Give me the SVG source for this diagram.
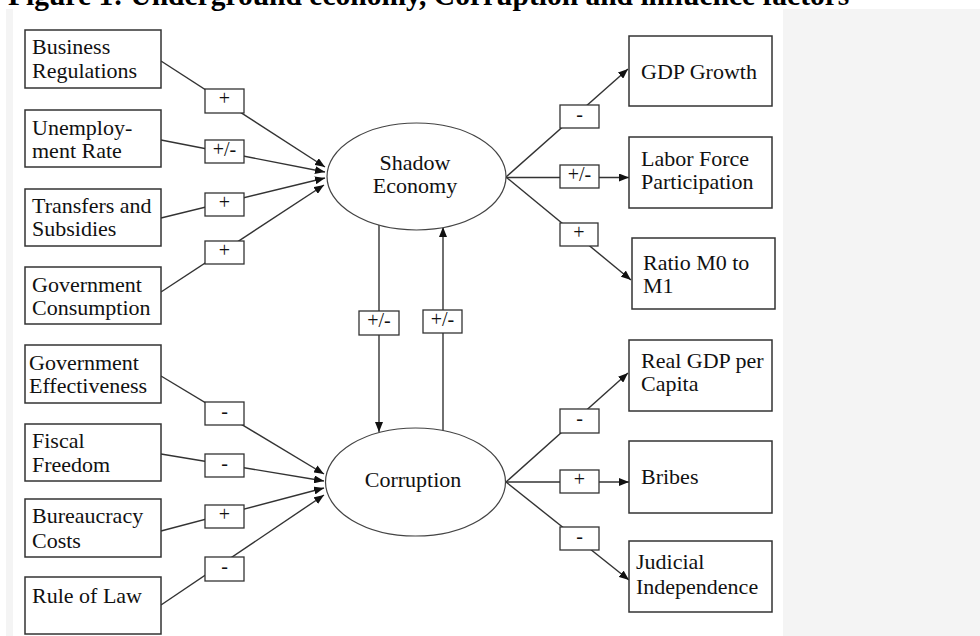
<svg xmlns="http://www.w3.org/2000/svg" width="980" height="636" viewBox="0 0 980 636">
<defs>
<marker id="ah" viewBox="0 0 10 8" refX="10" refY="4" markerWidth="10" markerHeight="8" markerUnits="userSpaceOnUse" orient="auto">
<path d="M0,0 L10,4 L0,8 z" fill="#111"/>
</marker>
<style>
.box{fill:#fff;stroke:#333;stroke-width:1.5}
.lbl{fill:#fff;stroke:#333;stroke-width:1.3}
.ell{fill:#fff;stroke:#444;stroke-width:1.2}
.t{font-family:"Liberation Serif","Times New Roman",serif;font-size:22px;fill:#111}
.lt{font-family:"Liberation Serif","Times New Roman",serif;font-size:20px;fill:#111;text-anchor:middle}
.c{stroke:#333;stroke-width:1.4;fill:none}
.a{marker-end:url(#ah)}
</style>
</defs>
<rect x="0" y="0" width="980" height="636" fill="#fff"/>
<rect x="6" y="9" width="7" height="627" fill="#f4f4f4"/>
<rect x="783" y="9" width="197" height="627" fill="#f4f4f4"/>
<text x="8" y="5" font-family="Liberation Serif,'Times New Roman',serif" font-size="29.5" font-weight="bold" fill="#000">Figure 1: Underground economy, Corruption and influence factors</text>

<g id="connectors">
<line class="c a" x1="161" y1="61" x2="325" y2="167"/>
<line class="c a" x1="161" y1="140" x2="325" y2="172"/>
<line class="c a" x1="161" y1="218" x2="325" y2="178"/>
<line class="c a" x1="161" y1="292" x2="324" y2="185"/>
<line class="c a" x1="161" y1="376" x2="324" y2="474"/>
<line class="c a" x1="161" y1="454" x2="324" y2="481"/>
<line class="c a" x1="161" y1="531" x2="324" y2="488"/>
<line class="c a" x1="161" y1="605" x2="324" y2="495"/>
<line class="c a" x1="506" y1="177" x2="628" y2="69"/>
<line class="c a" x1="506" y1="177.5" x2="629" y2="177.5"/>
<line class="c a" x1="506" y1="177" x2="631" y2="280"/>
<line class="c a" x1="506" y1="482" x2="628" y2="373"/>
<line class="c a" x1="506" y1="482" x2="629" y2="482"/>
<line class="c a" x1="506" y1="482" x2="629" y2="580"/>
<line class="c a" x1="379" y1="225" x2="379" y2="432"/>
<line class="c a" x1="443" y1="431" x2="443" y2="227"/>
<g id="labels">
<rect class="lbl" x="205" y="89" width="39" height="24"/><text class="lt" x="224.5" y="105">+</text>
<rect class="lbl" x="205" y="140" width="39" height="23"/><text class="lt" x="224.5" y="156">+/-</text>
<rect class="lbl" x="205" y="193" width="39" height="23"/><text class="lt" x="224.5" y="209">+</text>
<rect class="lbl" x="205" y="241" width="39" height="23"/><text class="lt" x="224.5" y="257">+</text>
<rect class="lbl" x="205" y="402" width="39" height="23"/><text class="lt" x="224.5" y="418">-</text>
<rect class="lbl" x="205" y="454" width="39" height="23"/><text class="lt" x="224.5" y="470">-</text>
<rect class="lbl" x="205" y="505" width="39" height="23"/><text class="lt" x="224.5" y="521">+</text>
<rect class="lbl" x="205" y="557" width="39" height="24"/><text class="lt" x="224.5" y="573">-</text>
<rect class="lbl" x="560" y="105" width="39" height="23"/><text class="lt" x="579.5" y="121">-</text>
<rect class="lbl" x="560" y="165" width="39" height="23"/><text class="lt" x="579.5" y="181">+/-</text>
<rect class="lbl" x="560" y="223" width="38" height="23"/><text class="lt" x="579" y="239">+</text>
<rect class="lbl" x="560" y="409" width="39" height="24"/><text class="lt" x="579.5" y="425">-</text>
<rect class="lbl" x="560" y="470" width="39" height="23"/><text class="lt" x="579.5" y="486">+</text>
<rect class="lbl" x="560" y="527" width="39" height="23"/><text class="lt" x="579.5" y="543">-</text>
<rect class="lbl" x="359" y="311" width="40" height="24"/><text class="lt" x="379" y="327">+/-</text>
<rect class="lbl" x="423" y="310" width="39" height="23"/><text class="lt" x="442.5" y="326">+/-</text>
</g>
</g>

<g id="business-regulations"><rect class="box" x="25" y="30" width="136" height="58"/><text class="t" x="32" y="54">Business</text><text class="t" x="32" y="78">Regulations</text></g>
<g id="unemployment-rate"><rect class="box" x="25" y="110" width="136" height="57"/><text class="t" x="32" y="135">Unemploy-</text><text class="t" x="32" y="158">ment Rate</text></g>
<g id="transfers-subsidies"><rect class="box" x="25" y="189" width="136" height="57"/><text class="t" x="32" y="213">Transfers and</text><text class="t" x="32" y="236">Subsidies</text></g>
<g id="government-consumption"><rect class="box" x="25" y="267" width="136" height="57"/><text class="t" x="32" y="292">Government</text><text class="t" x="32" y="315">Consumption</text></g>
<g id="government-effectiveness"><rect class="box" x="25" y="345" width="136" height="58"/><text class="t" x="29" y="370">Government</text><text class="t" x="29" y="393">Effectiveness</text></g>
<g id="fiscal-freedom"><rect class="box" x="25" y="424" width="136" height="57"/><text class="t" x="32" y="448">Fiscal</text><text class="t" x="32" y="472">Freedom</text></g>
<g id="bureaucracy-costs"><rect class="box" x="25" y="499" width="136" height="58"/><text class="t" x="32" y="523">Bureaucracy</text><text class="t" x="32" y="548">Costs</text></g>
<g id="rule-of-law"><rect class="box" x="25" y="577" width="136" height="57"/><text class="t" x="32" y="603">Rule of Law</text></g>

<g id="shadow-economy"><ellipse class="ell" cx="416.5" cy="176.5" rx="89.5" ry="53.5"/><text class="t" x="415" y="170" text-anchor="middle">Shadow</text><text class="t" x="415" y="193" text-anchor="middle">Economy</text></g>
<g id="corruption"><ellipse class="ell" cx="415.5" cy="482" rx="90" ry="54"/><text class="t" x="413" y="487" text-anchor="middle">Corruption</text></g>

<g id="gdp-growth"><rect class="box" x="629" y="36" width="143" height="70"/><text class="t" x="641" y="79">GDP Growth</text></g>
<g id="labor-force"><rect class="box" x="629" y="137" width="143" height="71"/><text class="t" x="641" y="166">Labor Force</text><text class="t" x="641" y="189">Participation</text></g>
<g id="ratio-m0-m1"><rect class="box" x="632" y="238" width="143" height="71"/><text class="t" x="643" y="270">Ratio M0 to</text><text class="t" x="643" y="293">M1</text></g>
<g id="real-gdp"><rect class="box" x="629" y="340" width="143" height="71"/><text class="t" x="641" y="368">Real GDP per</text><text class="t" x="641" y="391">Capita</text></g>
<g id="bribes"><rect class="box" x="629" y="441" width="143" height="72"/><text class="t" x="641" y="484">Bribes</text></g>
<g id="judicial-independence"><rect class="box" x="629" y="541" width="143" height="71"/><text class="t" x="636" y="569">Judicial</text><text class="t" x="636" y="594">Independence</text></g>
</svg>
